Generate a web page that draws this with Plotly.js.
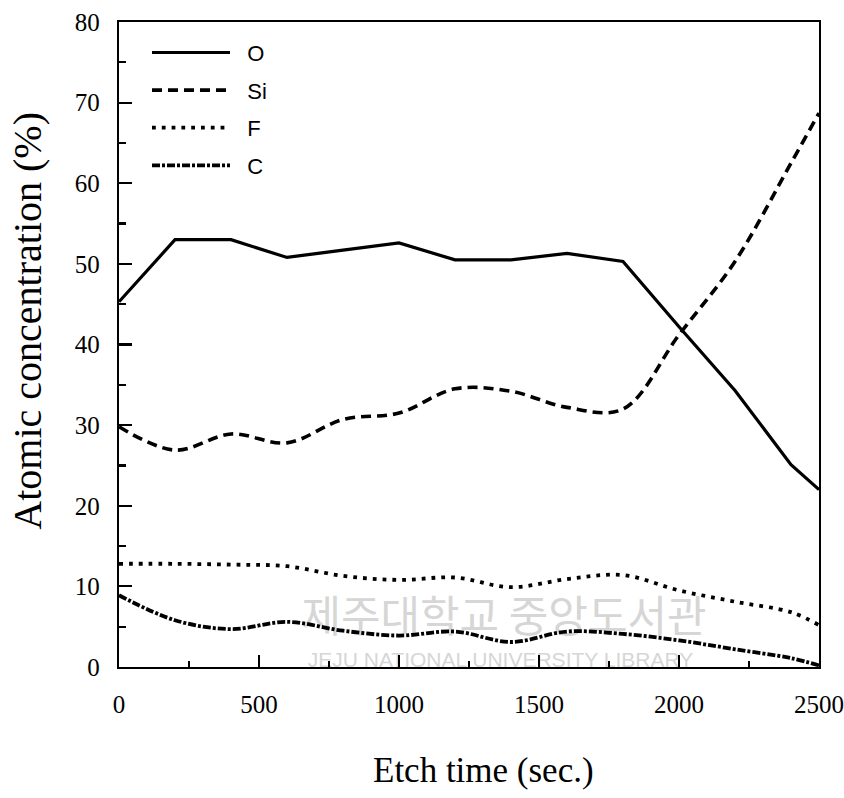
<!DOCTYPE html>
<html><head><meta charset="utf-8">
<script src="https://cdn.plot.ly/plotly-3.0.1.min.js"></script>
<style>html,body{margin:0;padding:0;background:#fff;} #chart{width:844px;height:798px;}</style>
</head><body><div id="chart"></div>
<script>
const etchTime = [0,200,400,600,800,1000,1200,1400,1600,1800,2000,2200,2400,2500];
const oxygen   = [45.3,53.0,53.0,50.8,51.7,52.6,50.5,50.5,51.3,50.3,42.2,34.3,25.1,22.0];
const silicon  = [29.8,26.9,28.9,27.8,30.7,31.5,34.5,34.2,32.2,32.0,41.2,50.3,62.5,68.7];
const fluorine = [12.8,12.8,12.7,12.5,11.3,10.8,11.1,9.9,10.9,11.4,9.5,8.1,6.8,5.2];
const carbon   = [8.9,5.8,4.7,5.6,4.5,3.9,4.4,3.1,4.4,4.1,3.3,2.2,1.1,0.2];
const seriesNames = ['O','Si','F','C'];
const xTickVals = [0,500,1000,1500,2000,2500];
const yTickVals = [0,10,20,30,40,50,60,70,80];
const xTitle = 'Etch time (sec.)';
const yTitle = 'Atomic concentration (%)';
const watermarkKo = '제주대학교 중앙도서관';
const watermarkEn = 'JEJU NATIONAL UNIVERSITY LIBRARY';

const pad = '\u00a0\u00a0';
const traces = [
  {x: etchTime, y: oxygen, name: pad + seriesNames[0], legendgroup: 'g1', mode: 'lines',
   line: {color: '#000', width: 3.2, shape: 'linear'}},
  {x: etchTime, y: silicon, name: pad + seriesNames[1], legendgroup: 'g2', mode: 'lines',
   line: {color: '#000', width: 3.6, shape: 'spline', smoothing: 1, dash: '10px,6px'}},
  {x: etchTime, y: fluorine, name: pad + seriesNames[2], legendgroup: 'g3', mode: 'lines',
   line: {color: '#000', width: 3.8, shape: 'spline', smoothing: 1, dash: '3.8px,6px'}},
  {x: etchTime, y: carbon, name: pad + seriesNames[3], legendgroup: 'g4', mode: 'lines',
   line: {color: '#000', width: 3.8, shape: 'spline', smoothing: 1, dash: '8px,2px,3px,2px'}}
];

const serif = 'Liberation Serif, Times New Roman, serif';
const axisCommon = {
  showline: true, linecolor: '#000', linewidth: 2.2, mirror: true,
  showgrid: false, zeroline: false,
  ticks: 'inside', tickcolor: '#000', tickwidth: 2.2,
  tickfont: {family: serif, size: 25, color: '#000'}
};

const layout = {
  width: 844, height: 798,
  margin: {l: 119, r: 25, t: 22, b: 131},
  paper_bgcolor: '#fff', plot_bgcolor: 'rgba(0,0,0,0)',
  showlegend: true,
  legend: {x: 0.04, y: 0.985, xanchor: 'left', yanchor: 'top', bgcolor: 'rgba(0,0,0,0)',
           borderwidth: 0, itemwidth: 78, tracegroupgap: 6,
           font: {family: 'Liberation Sans, Arial, sans-serif', size: 22, color: '#000'}},
  xaxis: Object.assign({}, axisCommon, {range: [0, 2500], tickvals: xTickVals, ticklen: 12,
          ticklabelstandoff: 14,
          minor: {dtick: 250, ticks: 'inside', ticklen: 6, tickwidth: 2.2, tickcolor: '#000'}}),
  yaxis: Object.assign({}, axisCommon, {range: [0, 80], tickvals: yTickVals, ticklen: 13,
          ticklabelstandoff: 12,
          minor: {dtick: 5, ticks: 'inside', ticklen: 7, tickwidth: 2.2, tickcolor: '#000'}}),
  shapes: [
    {type: 'rect', xref: 'paper', yref: 'paper', x0: 0.25, x1: 0.85, y0: 0.036, y1: 0.111,
     layer: 'below', line: {width: 0}, fillcolor: 'rgba(0,0,0,0)',
     label: {text: watermarkKo, textposition: 'middle center',
             font: {family: 'Noto Sans CJK KR', size: 43, color: '#d6d6d6'}}},
    {type: 'rect', xref: 'paper', yref: 'paper', x0: 0.25, x1: 0.84, y0: 0.0, y1: 0.03,
     layer: 'below', line: {width: 0}, fillcolor: 'rgba(0,0,0,0)',
     label: {text: watermarkEn, textposition: 'middle center',
             font: {family: 'Liberation Sans, Arial, sans-serif', size: 21, color: '#d6d6d6'}}}
  ],
  annotations: [
    {text: xTitle, xref: 'paper', yref: 'paper', x: 0.521, y: -0.160, xanchor: 'center', yanchor: 'middle',
     showarrow: false, font: {family: serif, size: 35, color: '#000'}},
    {text: yTitle, xref: 'paper', yref: 'paper', x: -0.13, y: 0.537, xanchor: 'center', yanchor: 'middle',
     textangle: -90, showarrow: false, font: {family: serif, size: 40, color: '#000'}}
  ]
};

Plotly.newPlot('chart', traces, layout, {displayModeBar: false, staticPlot: true});
</script>
</body></html>
